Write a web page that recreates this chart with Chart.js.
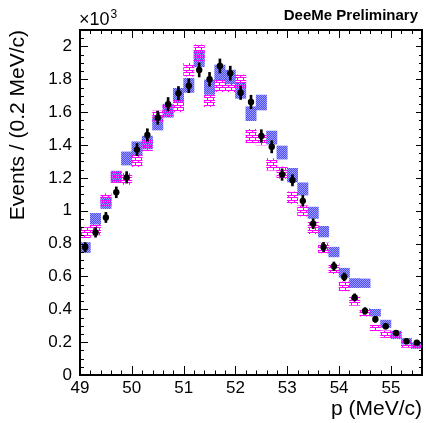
<!DOCTYPE html>
<html lang="en">
<head>
<meta charset="UTF-8" />
<title>DeeMe momentum spectrum</title>
<script src="https://cdn.jsdelivr.net/npm/chart.js"></script>
<style>
  html, body { margin: 0; padding: 0; background: #fff; }
</style>
</head>
<body>
<canvas id="spectrum" width="426" height="423"></canvas>
<script>
// 0.2 MeV/c bins between 49.0 and 55.6 MeV/c, counts in units of 10^3
var binCenters = [49.1, 49.3, 49.5, 49.7, 49.9, 50.1, 50.3, 50.5, 50.7, 50.9, 51.1,
                  51.3, 51.5, 51.7, 51.9, 52.1, 52.3, 52.5, 52.7, 52.9, 53.1, 53.3,
                  53.5, 53.7, 53.9, 54.1, 54.3, 54.5, 54.7, 54.9, 55.1, 55.3, 55.5];

var counts = [0.778, 0.868, 0.959, 1.112, 1.203, 1.372, 1.461, 1.566, 1.648, 1.715, 1.761,
              1.857, 1.800, 1.881, 1.837, 1.718, 1.662, 1.455, 1.389, 1.220, 1.185, 1.060,
              0.921, 0.779, 0.662, 0.597, 0.472, 0.390, 0.339, 0.297, 0.256, 0.205, 0.197];

var countErr = [0.028, 0.029, 0.031, 0.033, 0.035, 0.037, 0.038, 0.040, 0.041, 0.041, 0.042,
                0.043, 0.042, 0.043, 0.043, 0.041, 0.041, 0.038, 0.037, 0.035, 0.034, 0.033,
                0.030, 0.028, 0.026, 0.024, 0.022, 0.020, 0.018, 0.017, 0.016, 0.014, 0.014];

// blue hatched bands
var blueLow  = [0.745, 0.918, 1.013, 1.172, 1.278, 1.338, 1.376, 1.491, 1.569, 1.664, 1.720,
                1.876, 1.708, 1.796, 1.772, 1.684, 1.548, 1.613, 1.405, 1.314, 1.175, 1.095,
                0.953, 0.840, 0.719, 0.595, 0.532, 0.532, 0.358, 0.289, 0.222, 0.188, 0.162];
var blueHigh = [0.806, 0.984, 1.083, 1.241, 1.358, 1.420, 1.454, 1.573, 1.649, 1.745, 1.806,
                1.974, 1.796, 1.887, 1.856, 1.776, 1.633, 1.704, 1.485, 1.394, 1.258, 1.170,
                1.022, 0.905, 0.778, 0.650, 0.587, 0.585, 0.400, 0.334, 0.267, 0.222, 0.196];

// magenta brick bands
var pinkLow  = [0.836, 0.852, 1.030, 1.172, 1.160, 1.268, 1.366, 1.541, 1.572, 1.602, 1.818,
                1.910, 1.633, 1.724, 1.724, 1.745, 1.414, 1.400, 1.247, 1.197, 1.044, 0.967,
                0.860, 0.743, 0.617, 0.512, 0.424, 0.358, 0.269, 0.228, 0.220, 0.168, 0.160];
var pinkHigh = [0.898, 0.918, 1.104, 1.240, 1.227, 1.338, 1.436, 1.607, 1.642, 1.674, 1.897,
                2.010, 1.707, 1.806, 1.776, 1.826, 1.496, 1.470, 1.318, 1.268, 1.115, 1.030,
                0.930, 0.803, 0.678, 0.567, 0.479, 0.404, 0.303, 0.269, 0.260, 0.208, 0.190];

var xTicks = [49, 50, 51, 52, 53, 54, 55];
var yTicks = [0, 0.2, 0.4, 0.6, 0.8, 1, 1.2, 1.4, 1.6, 1.8, 2];

var FONT = '"Liberation Sans", Arial, Helvetica, sans-serif';

// fill patterns: blue dots and magenta bricks
function dotPattern(ctx) {
  var c = document.createElement('canvas');
  c.width = 2; c.height = 2;
  var g = c.getContext('2d');
  g.fillStyle = '#4f4ff4';
  g.fillRect(0, 0, 2, 2);
  g.fillStyle = '#9c9cff';
  g.fillRect(0, 0, 1, 1);
  g.fillRect(1, 1, 1, 1);
  return ctx.createPattern(c, 'repeat');
}

function brickPattern(ctx) {
  var c = document.createElement('canvas');
  c.width = 6; c.height = 5;
  var g = c.getContext('2d');
  g.fillStyle = '#ff00ff';
  g.fillRect(0, 0, 6, 1);
  g.fillRect(0, 1, 1, 1);
  g.fillRect(0, 2, 6, 1);
  g.fillRect(3, 3, 1, 2);
  return ctx.createPattern(c, 'repeat');
}

function bandData(lo, hi) {
  return binCenters.map(function (x, i) { return { x: x, y: [lo[i], hi[i]] }; });
}

// ROOT style frame with inward ticks on all four sides
var rootFrame = {
  id: 'rootFrame',
  afterDatasetsDraw: function (chart) {
    var ctx = chart.ctx, a = chart.chartArea;
    var sx = chart.scales.x, sy = chart.scales.y;
    ctx.save();
    ctx.strokeStyle = '#000';
    ctx.lineWidth = 1;
    ctx.beginPath();
    var i, v, p, major;
    for (i = 0; i <= 33; i++) {
      v = 49 + i * 0.2;
      major = Math.abs(v - Math.round(v)) < 1e-6;
      p = Math.round(sx.getPixelForValue(v)) + 0.5;
      ctx.moveTo(p, a.bottom); ctx.lineTo(p, a.bottom - (major ? 9 : 4.5));
      ctx.moveTo(p, a.top); ctx.lineTo(p, a.top + (major ? 8 : 4));
    }
    for (i = 0; i <= 42; i++) {
      v = i * 0.05;
      major = i % 4 === 0;
      p = Math.round(sy.getPixelForValue(v)) + 0.5;
      ctx.moveTo(a.left, p); ctx.lineTo(a.left + (major ? 8 : 4), p);
      ctx.moveTo(a.right, p); ctx.lineTo(a.right - (major ? 6 : 3), p);
    }
    ctx.stroke();
    ctx.lineWidth = 2;
    ctx.strokeRect(a.left, a.top, a.right - a.left, a.bottom - a.top);
    ctx.restore();
  },
  afterDraw: function (chart) {
    var ctx = chart.ctx;
    ctx.save();
    ctx.fillStyle = '#000';
    ctx.textBaseline = 'alphabetic';
    ctx.textAlign = 'right';
    ctx.font = 'bold 15px ' + FONT;
    ctx.fillText('DeeMe Preliminary', 418, 20);
    ctx.textAlign = 'left';
    ctx.font = '18px ' + FONT;
    ctx.fillText('\u00d710', 79, 25);
    var w = ctx.measureText('\u00d710').width;
    ctx.font = '12px ' + FONT;
    ctx.fillText('3', 79 + w + 1, 18);
    ctx.restore();
  }
};

var ctx = document.getElementById('spectrum').getContext('2d');

var chart = new Chart(ctx, {
  type: 'bar',
  plugins: [rootFrame],
  data: {
    datasets: [
      {
        type: 'line',
        label: 'Data',
        data: binCenters.map(function (x, i) { return { x: x, y: counts[i] }; }),
        showLine: false,
        pointRadius: 3.2,
        pointBackgroundColor: '#000',
        pointBorderWidth: 0,
        order: 0
      },
      {
        label: 'Stat. error',
        data: bandData(counts.map(function (c, i) { return c - countErr[i]; }),
                       counts.map(function (c, i) { return c + countErr[i]; })),
        backgroundColor: '#000',
        barThickness: 2,
        grouped: false,
        order: 1
      },
      {
        label: 'Magenta band',
        data: bandData(pinkLow, pinkHigh),
        backgroundColor: brickPattern(ctx),
        borderWidth: 0,
        grouped: false,
        barPercentage: 1,
        categoryPercentage: 1,
        order: 2
      },
      {
        label: 'Blue band',
        data: bandData(blueLow, blueHigh),
        backgroundColor: dotPattern(ctx),
        borderWidth: 0,
        grouped: false,
        barPercentage: 1,
        categoryPercentage: 1,
        order: 3
      }
    ]
  },
  options: {
    responsive: false,
    animation: false,
    layout: { padding: { top: 30, right: 2, left: 0, bottom: 0 } },
    plugins: {
      legend: { display: false },
      tooltip: { enabled: false }
    },
    scales: {
      x: {
        type: 'linear',
        min: 49,
        max: 55.6,
        offset: false,
        grid: { display: false, drawTicks: false, offset: false },
        border: { display: false },
        afterFit: function (s) { s.height = 48; },
        afterBuildTicks: function (s) { s.ticks = xTicks.map(function (v) { return { value: v }; }); },
        ticks: {
          color: '#000',
          padding: 3,
          maxRotation: 0,
          autoSkip: false,
          font: { family: FONT, size: 17 },
          callback: function (v) { return String(v); }
        },
        title: {
          display: true,
          text: 'p (MeV/c)',
          align: 'end',
          color: '#000',
          padding: { top: 0, bottom: 1 },
          font: { family: FONT, size: 21 }
        }
      },
      y: {
        min: 0,
        max: 2.1,
        grid: { display: false, drawTicks: false },
        border: { display: false },
        afterFit: function (s) { s.width = 80; },
        afterBuildTicks: function (s) { s.ticks = yTicks.map(function (v) { return { value: v }; }); },
        ticks: {
          color: '#000',
          padding: 8,
          autoSkip: false,
          font: { family: FONT, size: 17 },
          callback: function (v) { return String(Number(v.toFixed(1))); }
        },
        title: {
          display: true,
          text: 'Events / (0.2 MeV/c)',
          align: 'end',
          color: '#000',
          padding: { top: 6, bottom: 0 },
          font: { family: FONT, size: 21 }
        }
      }
    }
  }
});
</script>
</body>
</html>
